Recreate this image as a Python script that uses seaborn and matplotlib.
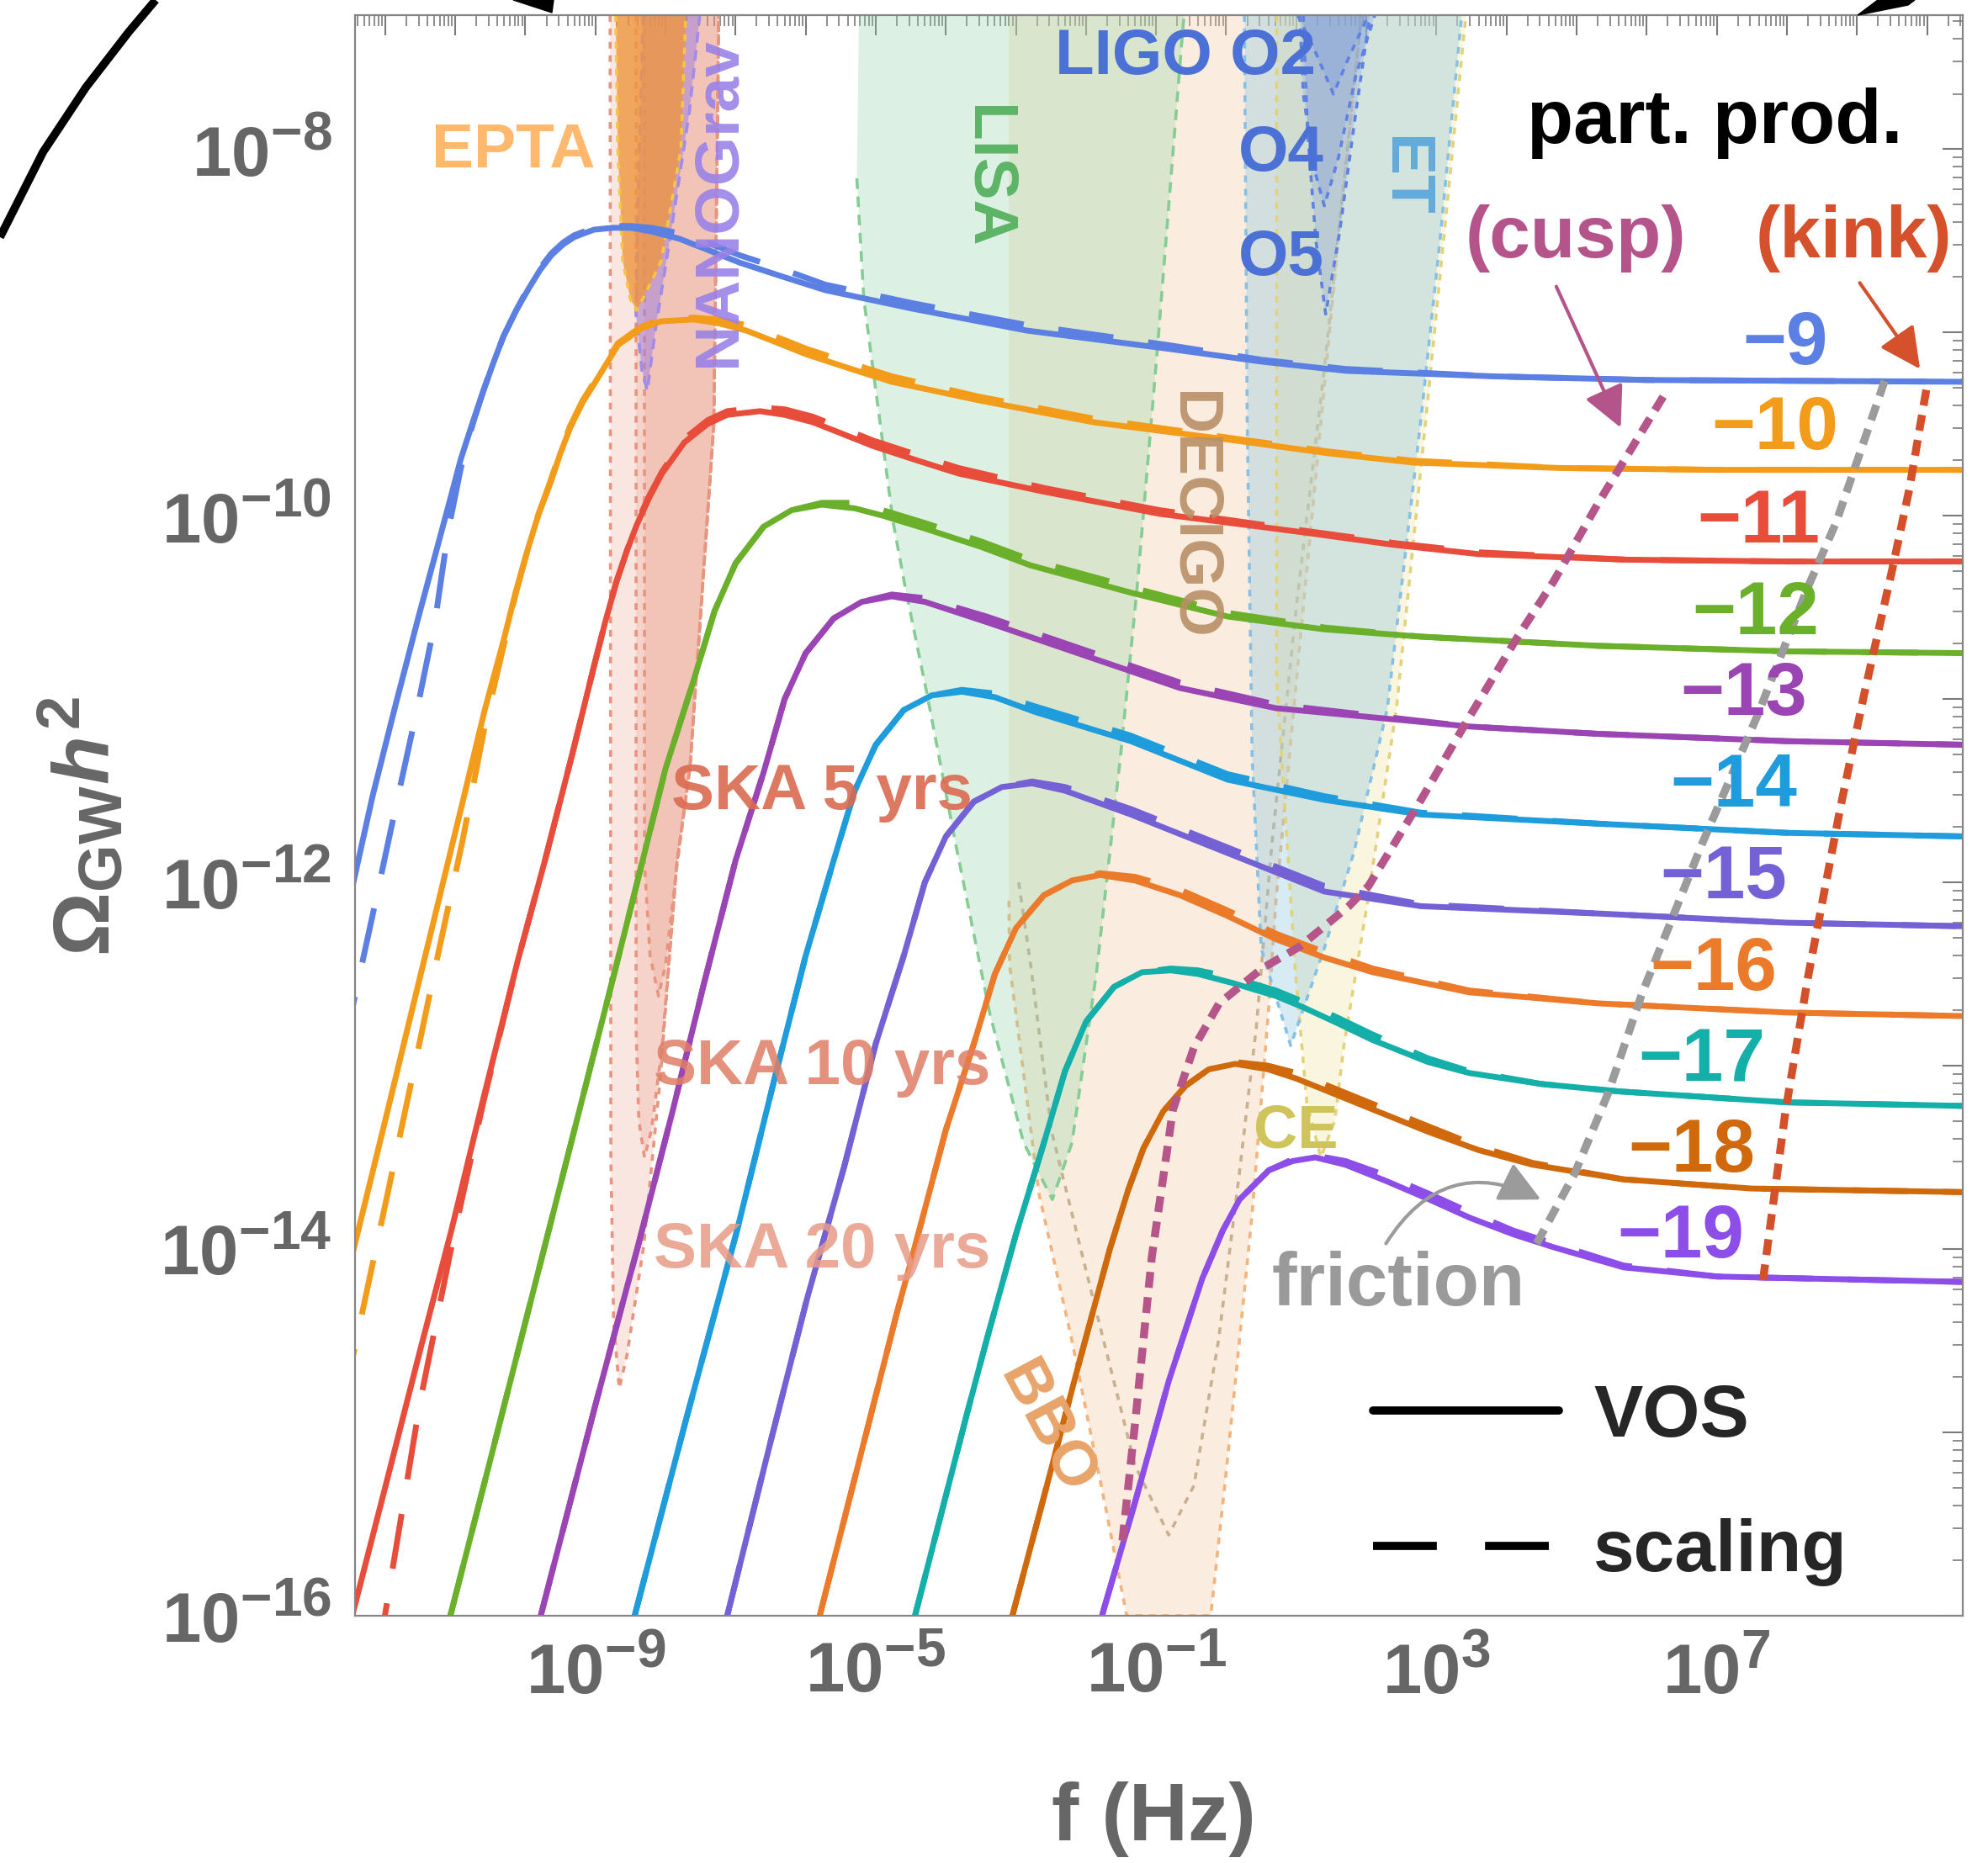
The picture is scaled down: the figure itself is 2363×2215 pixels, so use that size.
import numpy as np
import pandas as pd
import matplotlib
matplotlib.use("Agg")
import matplotlib.pyplot as plt
import matplotlib.ticker as mticker
from matplotlib.lines import Line2D
import seaborn as sns

try:
    import matplotlib._mathtext as _mt
    _mt.SHRINK_FACTOR = 0.77
except Exception:
    pass

# ---------------- data: log10(f/Hz) and log10(Omega_GW h^2) ----------------
gmu_labels = ["−9", "−10", "−11", "−12", "−13", "−14", "−15", "−16", "−17", "−18", "−19"]
curve_colors = ["#5B7FE3", "#F39C1A", "#E84C3A", "#6BB02A", "#9B45B5", "#1F9CDB",
                "#7561D6", "#EC7A2B", "#14AFA9", "#CF690C", "#8C4DE8"]

logf_m9 = [-12.60, -12.43, -12.18, -11.85, -11.53, -11.29, -11.10, -10.92, -10.75, -10.60, -10.45, -10.31, -10.13, -9.95,
           -9.79, -9.63, -9.46, -9.30, -9.02, -8.75, -8.50, -8.20, -7.80, -7.40, -6.94, -6.30, -5.72, -4.49, -2.85,
           -0.82, 0.51, 1.71, 3.81, 6.00, 10.60]
vos_m9 = [-12.25, -11.96, -11.53, -11.03, -10.56, -10.22, -9.95, -9.69, -9.49, -9.32, -9.16, -9.02, -8.88, -8.76,
          -8.66, -8.58, -8.52, -8.48, -8.44, -8.43, -8.43, -8.45, -8.49, -8.55, -8.62, -8.70, -8.77, -8.87, -8.99,
          -9.09, -9.16, -9.21, -9.24, -9.26, -9.27]
scal_m9 = [-12.92, -12.62, -12.18, -11.59, -11.03, -10.58, -10.08, -9.74, -9.50, -9.32, -9.16, -9.02, -8.88, -8.75,
           -8.65, -8.57, -8.51, -8.47, -8.43, -8.42, -8.42, -8.43, -8.46, -8.51, -8.58, -8.66, -8.74, -8.84, -8.96,
           -9.07, -9.15, -9.20, -9.24, -9.26, -9.27]

logf_m10 = [-12.60, -12.43, -12.00, -11.60, -11.25, -10.90, -10.58, -10.31, -10.14, -9.97, -9.81, -9.65, -9.50, -9.36,
            -9.18, -9.00, -8.68, -8.35, -8.07, -7.60, -7.25, -6.85, -6.45, -5.99, -5.35, -4.77, -3.54, -1.90, 0.13,
            1.46, 2.66, 4.76, 7.00, 10.60]
vos_m10 = [-14.23, -13.97, -13.30, -12.67, -12.12, -11.57, -11.06, -10.68, -10.42, -10.19, -9.99, -9.83, -9.66, -9.52,
           -9.38, -9.27, -9.07, -8.98, -8.94, -8.93, -8.95, -8.99, -9.05, -9.12, -9.20, -9.27, -9.37, -9.49, -9.59,
           -9.66, -9.71, -9.74, -9.75, -9.75]
scal_m10 = [-14.84, -14.53, -13.76, -13.04, -12.40, -11.78, -11.15, -10.71, -10.43, -10.19, -9.99, -9.82, -9.65, -9.51,
            -9.37, -9.26, -9.06, -8.97, -8.93, -8.92, -8.93, -8.96, -9.02, -9.09, -9.17, -9.24, -9.35, -9.47, -9.58,
            -9.65, -9.70, -9.74, -9.75, -9.75]

logf_m11 = [-12.60, -12.45, -12.00, -11.50, -11.05, -10.60, -10.11, -9.72, -9.33, -9.02, -8.86, -8.70, -8.55, -8.41,
            -8.23, -8.05, -7.73, -7.40, -7.12, -6.65, -6.30, -5.90, -5.50, -5.04, -4.40, -3.82, -2.59, -0.95, 1.08, 2.41,
            3.61, 5.71, 8.00, 10.60]
vos_m11 = [-16.20, -15.97, -15.30, -14.55, -13.89, -13.18, -12.43, -11.88, -11.30, -10.82, -10.58, -10.36, -10.19, -10.05,
           -9.90, -9.77, -9.60, -9.50, -9.45, -9.43, -9.45, -9.49, -9.55, -9.62, -9.70, -9.77, -9.87, -9.99, -10.09, -10.16,
           -10.21, -10.24, -10.25, -10.25]
scal_m11 = [-17.20, -16.90, -15.99, -14.83, -13.98, -13.20, -12.43, -11.88, -11.30, -10.82, -10.58, -10.36, -10.19, -10.04,
            -9.89, -9.76, -9.58, -9.48, -9.43, -9.41, -9.42, -9.46, -9.52, -9.59, -9.67, -9.74, -9.85, -9.97, -10.08, -10.15,
            -10.20, -10.24, -10.25, -10.25]

logf_m12 = [-11.40, -11.05, -10.50, -9.72, -9.20, -8.70, -8.45, -8.00, -7.60, -7.30, -7.00, -6.60, -6.20, -5.77,
            -5.30, -4.90, -4.30, -3.50, -2.80, -1.36, 0.02, 1.40, 2.78, 5.31, 8.00, 10.60]
vos_m12 = [-16.50, -15.97, -15.15, -13.98, -13.20, -12.45, -12.07, -11.38, -10.90, -10.52, -10.26, -10.06, -9.97, -9.94,
           -9.96, -10.00, -10.07, -10.17, -10.27, -10.42, -10.55, -10.62, -10.66, -10.71, -10.74, -10.75]
scal_m12 = [-16.50, -15.97, -15.15, -13.98, -13.20, -12.45, -12.07, -11.38, -10.90, -10.52, -10.26, -10.06, -9.97, -9.93,
            -9.93, -9.97, -10.04, -10.14, -10.24, -10.39, -10.53, -10.61, -10.66, -10.71, -10.74, -10.75]

logf_m13 = [-10.10, -9.76, -9.00, -8.39, -7.90, -7.45, -7.00, -6.60, -6.30, -6.00, -5.60, -5.20, -4.77, -4.30,
            -3.42, -2.04, -0.66, 0.71, 2.09, 3.47, 5.31, 8.00, 10.60]
vos_m13 = [-16.50, -15.97, -14.85, -13.98, -13.25, -12.55, -11.88, -11.40, -11.00, -10.75, -10.56, -10.47, -10.44, -10.47,
           -10.58, -10.76, -10.94, -11.05, -11.10, -11.15, -11.19, -11.23, -11.25]
scal_m13 = [-16.50, -15.97, -14.85, -13.98, -13.25, -12.55, -11.88, -11.40, -11.00, -10.75, -10.56, -10.47, -10.43, -10.45,
            -10.55, -10.73, -10.91, -11.03, -11.09, -11.15, -11.19, -11.23, -11.25]

logf_m14 = [-8.80, -8.42, -7.70, -6.98, -6.45, -6.00, -5.60, -5.30, -5.00, -4.60, -4.20, -3.77, -3.30, -2.73,
            -1.36, 0.02, 1.40, 2.78, 5.31, 8.00, 10.60]
vos_m14 = [-16.53, -15.97, -14.92, -13.90, -13.08, -12.40, -11.88, -11.50, -11.25, -11.06, -10.98, -10.96, -10.99, -11.07,
           -11.23, -11.44, -11.55, -11.63, -11.68, -11.73, -11.75]
scal_m14 = [-16.53, -15.97, -14.92, -13.90, -13.08, -12.40, -11.88, -11.50, -11.25, -11.06, -10.98, -10.95, -10.97, -11.04,
            -11.20, -11.41, -11.53, -11.62, -11.68, -11.73, -11.75]

logf_m15 = [-7.45, -7.10, -6.50, -5.98, -5.45, -5.00, -4.60, -4.30, -4.00, -3.60, -3.20, -2.77, -2.30, -1.36,
            0.02, 1.40, 2.78, 5.31, 8.00, 10.60]
vos_m15 = [-16.50, -15.97, -15.05, -14.27, -13.55, -12.88, -12.40, -12.00, -11.75, -11.56, -11.48, -11.46, -11.50, -11.63,
           -11.84, -12.05, -12.13, -12.17, -12.22, -12.24]
scal_m15 = [-16.50, -15.97, -15.05, -14.27, -13.55, -12.88, -12.40, -12.00, -11.75, -11.56, -11.48, -11.45, -11.48, -11.60,
            -11.81, -12.02, -12.12, -12.17, -12.22, -12.24]

logf_m16 = [-6.10, -5.78, -5.20, -4.70, -4.45, -4.00, -3.60, -3.30, -3.00, -2.60, -2.20, -1.80, -1.30, -0.66,
            0.00, 0.71, 1.40, 2.09, 3.47, 5.31, 8.00, 10.60]
vos_m16 = [-16.48, -15.97, -15.10, -14.35, -14.00, -13.35, -12.88, -12.50, -12.25, -12.07, -11.99, -11.96, -11.99, -12.07,
           -12.18, -12.31, -12.41, -12.49, -12.60, -12.66, -12.71, -12.73]
scal_m16 = [-16.48, -15.97, -15.10, -14.35, -14.00, -13.35, -12.88, -12.50, -12.25, -12.07, -11.99, -11.95, -11.97, -12.04,
            -12.15, -12.28, -12.38, -12.47, -12.59, -12.66, -12.71, -12.73]

logf_m17 = [-4.80, -4.42, -3.70, -3.40, -3.00, -2.60, -2.30, -2.00, -1.60, -1.20, -0.79, -0.40, 0.10, 0.71,
            1.09, 1.60, 2.09, 2.88, 3.47, 4.50, 5.60, 8.00, 10.60]
vos_m17 = [-16.55, -15.97, -14.90, -14.47, -13.92, -13.42, -13.03, -12.76, -12.57, -12.49, -12.48, -12.50, -12.55, -12.62,
           -12.68, -12.77, -12.86, -12.98, -13.04, -13.10, -13.14, -13.20, -13.22]
scal_m17 = [-16.55, -15.97, -14.90, -14.47, -13.92, -13.42, -13.03, -12.76, -12.57, -12.49, -12.47, -12.48, -12.52, -12.59,
            -12.65, -12.74, -12.83, -12.96, -13.03, -13.10, -13.14, -13.20, -13.22]

logf_m18 = [-3.40, -3.03, -2.60, -2.14, -1.66, -1.40, -1.18, -0.90, -0.58, -0.25, 0.13, 0.60, 1.00, 1.39,
            2.10, 2.88, 3.60, 4.37, 5.67, 7.50, 10.60]
vos_m18 = [-16.55, -15.97, -15.35, -14.68, -14.00, -13.68, -13.45, -13.25, -13.11, -13.02, -12.99, -13.02, -13.07, -13.13,
           -13.24, -13.36, -13.46, -13.54, -13.62, -13.67, -13.69]
scal_m18 = [-16.55, -15.97, -15.35, -14.68, -14.00, -13.68, -13.45, -13.25, -13.11, -13.02, -12.98, -13.00, -13.04, -13.10,
            -13.21, -13.33, -13.44, -13.53, -13.62, -13.67, -13.69]

logf_m19 = [-2.10, -1.75, -1.30, -0.82, -0.34, -0.05, 0.19, 0.61, 0.95, 1.27, 1.70, 2.29, 2.90, 3.48,
            4.10, 4.67, 5.67, 7.00, 10.60]
vos_m19 = [-16.50, -15.97, -15.38, -14.72, -14.16, -13.90, -13.73, -13.57, -13.52, -13.50, -13.54, -13.63, -13.73, -13.83,
           -13.92, -13.99, -14.10, -14.15, -14.18]
scal_m19 = [-16.50, -15.97, -15.38, -14.72, -14.16, -13.90, -13.73, -13.57, -13.51, -13.49, -13.52, -13.60, -13.70, -13.80,
            -13.90, -13.97, -14.09, -14.15, -14.18]

# curve label positions (log10 f, log10 Omega)
label_logf = [7.98, 7.83, 7.60, 7.55, 7.38, 7.24, 7.10, 6.95, 6.79, 6.64, 6.48]
label_logo = [-9.07, -9.53, -10.04, -10.54, -10.98, -11.48, -11.98, -12.48, -12.98, -13.47, -13.94]

# particle-production lines
cusp_logf = [-1.48, -1.30, -1.06, -0.76, -0.46, -0.10, 0.51, 1.05, 1.75, 2.03, 2.78, 3.42, 4.16, 4.67, 5.31, 6.30]
cusp_logo = [-15.59, -14.95, -14.04, -13.24, -12.90, -12.66, -12.47, -12.35, -12.13, -12.02, -11.55, -11.13, -10.66, -10.36, -9.93, -9.31]
friction_logf = [4.43, 4.97, 5.45, 5.93, 6.79, 7.58, 8.30, 8.70, 9.40]
friction_logo = [-13.97, -13.59, -13.15, -12.61, -11.79, -11.09, -10.39, -10.04, -9.26]
kink_logf = [7.66, 7.98, 8.30, 8.77, 9.10, 9.50, 9.75, 10.00]
kink_logo = [-14.17, -13.25, -12.52, -11.58, -10.98, -10.30, -9.85, -9.29]

# experimental sensitivity regions (polygon outlines)
ska20_logf = [-8.79, -8.78, -8.74, -8.66, -8.55, -8.31, -8.08, -7.84, -7.65, -7.31, -7.24]
ska20_logo = [-7.27, -13.50, -14.40, -14.76, -14.58, -13.98, -13.09, -11.90, -11.37, -9.50, -7.27]
ska10_logf = [-8.42, -8.42, -8.38, -8.30, -8.20, -8.05, -7.84, -7.65, -7.31, -7.24]
ska10_logo = [-7.27, -12.80, -13.30, -13.50, -13.35, -12.90, -11.90, -11.37, -9.50, -7.27]
ska5_logf = [-8.30, -8.30, -8.22, -8.10, -8.00, -7.85, -7.65, -7.31, -7.24]
ska5_logo = [-7.27, -11.90, -12.40, -12.62, -12.45, -11.95, -11.37, -9.50, -7.27]
epta_logf = [-8.71, -8.68, -8.61, -8.50, -8.41, -8.30, -8.06, -7.78, -7.71]
epta_logo = [-7.27, -8.00, -8.61, -8.82, -8.88, -8.80, -8.61, -8.00, -7.27]
nanograv_logf = [-8.32, -8.40, -8.42, -8.34, -8.26, -8.15, -7.90, -7.66, -7.51]
nanograv_logo = [-7.27, -8.40, -8.90, -9.20, -9.32, -9.00, -8.40, -7.80, -7.27]
lisa_logf = [-5.24, -5.27, -5.17, -4.96, -4.75, -4.58, -4.27, -3.86, -3.37, -2.89, -2.48, -2.20, -1.85, -1.51, -1.27, -0.99, -0.62, -0.60]
lisa_logo = [-7.27, -8.16, -8.82, -9.43, -10.04, -10.39, -10.97, -11.79, -12.72, -13.42, -13.73, -13.42, -12.49, -11.32, -10.39, -9.13, -7.35, -7.27]
decigo_logf = [-2.96, -2.96, -2.79, -2.49, -1.90, -1.30, -0.82, -0.46, -0.11, 0.19, 0.43, 0.65, 1.00, 1.40, 1.93]
decigo_logo = [-7.27, -12.00, -12.45, -13.36, -14.27, -15.18, -15.56, -15.29, -14.50, -13.58, -12.79, -11.80, -10.50, -9.20, -7.27]
bbo_logf = [-3.10, -3.10, -3.09, -2.67, -2.20, -1.72, -1.42, -0.22, 0.01, 0.37, 0.61, 0.71, 1.10, 1.60, 1.93]
bbo_logo = [-7.27, -12.10, -12.45, -13.70, -14.50, -15.41, -16.00, -16.00, -15.18, -13.81, -12.67, -12.10, -10.50, -8.50, -7.27]
et_logf = [0.26, 0.30, 0.37, 0.50, 0.92, 1.40, 1.82, 2.30, 2.78, 3.05, 3.36]
et_logo = [-7.27, -9.47, -11.31, -12.36, -12.89, -12.36, -11.84, -11.05, -9.47, -8.50, -7.27]
ce_logf = [0.72, 0.72, 0.99, 1.15, 1.35, 1.55, 1.68, 2.02, 2.43, 2.85, 3.42]
ce_logo = [-7.27, -10.90, -12.50, -13.20, -13.50, -13.30, -12.89, -12.10, -11.05, -9.47, -7.27]
ligo_o2_logf = [1.02, 1.25, 1.53, 1.75, 2.03]
ligo_o2_logo = [-7.27, -7.45, -7.70, -7.50, -7.27]
ligo_o4_logf = [1.05, 1.10, 1.25, 1.40, 1.60, 1.85, 2.12]
ligo_o4_logo = [-7.27, -7.70, -8.10, -8.31, -8.05, -7.60, -7.27]
ligo_o5_logf = [1.10, 1.16, 1.28, 1.42, 1.62, 1.85, 2.05]
ligo_o5_logo = [-7.27, -7.90, -8.50, -8.90, -8.45, -7.80, -7.27]

# ---------------- style ----------------
sns.set_theme(style="white")
plt.rcParams["font.family"] = ["Liberation Sans", "DejaVu Sans"]
plt.rcParams["font.weight"] = "bold"
plt.rcParams["mathtext.fontset"] = "custom"
plt.rcParams["mathtext.rm"] = "Liberation Sans:bold"
plt.rcParams["mathtext.bf"] = "Liberation Sans:bold"
plt.rcParams["mathtext.it"] = "Liberation Sans:italic:bold"
plt.rcParams["mathtext.sf"] = "Liberation Sans:bold"
plt.rcParams["axes.unicode_minus"] = True

W, H = 2363, 2215
fig = plt.figure(figsize=(W / 100, H / 100), dpi=100)
fig.patch.set_facecolor("white")
ax = fig.add_axes([422 / W, 1 - 1921 / H, (2333 - 422) / W, (1921 - 18) / H])
ax.set_xscale("log")
ax.set_yscale("log")
ax.set_xlim(10 ** -12.43, 10 ** 10.51)
ax.set_ylim(10 ** -16.0, 10 ** -7.27)
ax.set_facecolor("white")

P = lambda a: 10 ** np.asarray(a, dtype=float)


def region(lf, lo, fc, alpha, ec, ls, lw=2.6, z=1.0, start=0):
    ax.fill(P(lf), P(lo), color=fc, alpha=alpha, lw=0, zorder=z)
    ax.plot(P(lf[start:]), P(lo[start:]), color=ec, lw=lw, ls=ls, zorder=z + 0.05, dash_capstyle="butt")


dot = (0, (2.2, 2.2))
dash = (0, (3.5, 2.5))
# beige BBO / DECIGO
region(bbo_logf, bbo_logo, "#F2C9A0", 0.33, "#F2B47C", dot, z=0.8, start=1)
ax.plot(P(decigo_logf[1:]), P(decigo_logo[1:]), color="#C9B08E", lw=2.6, ls=dot, zorder=0.9)
# LISA
region(lisa_logf, lisa_logo, "#8ED3A5", 0.30, "#86CC95", dash, z=1.0, start=1)
# CE then ET
region(ce_logf, ce_logo, "#F3E7AA", 0.38, "#E2D37A", dot, z=1.1)
region(et_logf, et_logo, "#8FC8E0", 0.36, "#86C1E5", dot, z=1.15)
# LIGO
for lf, lo in ((ligo_o2_logf, ligo_o2_logo), (ligo_o4_logf, ligo_o4_logo), (ligo_o5_logf, ligo_o5_logo)):
    region(lf, lo, "#6A8BE0", 0.22, "#5E82E2", dot, z=1.2)
# SKA
for lf, lo in ((ska20_logf, ska20_logo), (ska10_logf, ska10_logo), (ska5_logf, ska5_logo)):
    region(lf, lo, "#E8907A", 0.22, "#E8957F", dot, z=1.3)
# NANOGrav below EPTA
region(nanograv_logf, nanograv_logo, "#9C7BE0", 0.50, "#A18BEB", dash, z=1.4)
region(epta_logf, epta_logo, "#F0953C", 0.78, "#F7C444", dot, z=1.5)

# ---------------- cosmic string spectra via seaborn ----------------
curve_sets = [(logf_m9, vos_m9, scal_m9), (logf_m10, vos_m10, scal_m10), (logf_m11, vos_m11, scal_m11),
              (logf_m12, vos_m12, scal_m12), (logf_m13, vos_m13, scal_m13), (logf_m14, vos_m14, scal_m14),
              (logf_m15, vos_m15, scal_m15), (logf_m16, vos_m16, scal_m16), (logf_m17, vos_m17, scal_m17),
              (logf_m18, vos_m18, scal_m18), (logf_m19, vos_m19, scal_m19)]
rows = []
for lab, (lf, v, s) in zip(gmu_labels, curve_sets):
    for model, vals in (("VOS", v), ("scaling", s)):
        for i, (a, b) in enumerate(zip(lf, vals)):
            rows.append((lab, model, i, 10 ** a, 10 ** b))
df = pd.DataFrame(rows, columns=["Gmu", "model", "idx", "f", "omega"])

sns.lineplot(data=df, x="f", y="omega", hue="Gmu", style="model",
             hue_order=gmu_labels, style_order=["VOS", "scaling"],
             palette=dict(zip(gmu_labels, curve_colors)),
             dashes={"VOS": "", "scaling": (9.5, 6.0)},
             sort=False, estimator=None, lw=5.0, legend=False, ax=ax, zorder=3)
for ln in ax.get_lines()[-22:]:
    ln.set_solid_joinstyle("round")

# particle production lines
ax.plot(P(cusp_logf), P(cusp_logo), color="#B5558A", lw=6.8, ls=(0, (2.0, 1.2)), zorder=4, dash_capstyle="butt")
ax.plot(P(friction_logf), P(friction_logo), color="#9B9B9B", lw=6.8, ls=(0, (2.0, 1.2)), zorder=4, dash_capstyle="butt")
ax.plot(P(kink_logf), P(kink_logo), color="#D4502A", lw=6.8, ls=(0, (2.0, 1.2)), zorder=4, dash_capstyle="butt")

# ---------------- axes / ticks ----------------
ax.xaxis.set_major_locator(mticker.LogLocator(base=10, numticks=100))
ax.yaxis.set_major_locator(mticker.LogLocator(base=10, numticks=100))
ax.xaxis.set_minor_locator(mticker.LogLocator(base=10, subs=np.arange(2, 10), numticks=100))
ax.yaxis.set_minor_locator(mticker.LogLocator(base=10, subs=np.arange(2, 10), numticks=100))
xshow = {-9, -5, -1, 3, 7}
yshow = {-8, -10, -12, -14, -16}


def make_fmt(show):
    def f(val, pos):
        e = int(round(np.log10(val)))
        return r"$\mathbf{10^{%d}}$" % e if e in show else ""
    return mticker.FuncFormatter(f)


ax.xaxis.set_major_formatter(make_fmt(xshow))
ax.yaxis.set_major_formatter(make_fmt(yshow))
ax.xaxis.set_minor_formatter(mticker.NullFormatter())
ax.yaxis.set_minor_formatter(mticker.NullFormatter())
ax.tick_params(which="both", direction="in", top=True, right=True, color="#7A7A7A")
ax.tick_params(which="major", length=17, width=1.5, labelsize=60, labelcolor="#666666", pad=20)
ax.tick_params(which="minor", length=9, width=1.2)
for sp in ax.spines.values():
    sp.set_color("#858585")
    sp.set_linewidth(1.6)
    sp.set_zorder(6)

ax.set_xlabel("f (Hz)", fontsize=70, color="#666666", fontweight="bold", va="center")
ax.xaxis.set_label_coords(0.4966, -0.127)
ax.set_ylabel(r"$\Omega_{\mathrm{GW}}\mathit{h}^{\mathit{2}}$", fontsize=68, color="#666666", va="center")
ax.yaxis.set_label_coords(-0.1695, 0.493)

# ---------------- text labels ----------------
def T(lf, lo, s, color, size, rot=0, alpha=1.0, ha="center", va="center"):
    ax.text(10 ** lf, 10 ** lo, s, color=color, fontsize=size, fontweight="bold", rotation=rot,
            ha=ha, va=va, alpha=alpha, zorder=8, rotation_mode="anchor")


T(-10.17, -8.01, "EPTA", "#FFB96E", 54)
T(-7.24, -8.29, "NANOGrav", "#9A82E8", 54, rot=90, alpha=0.9)
T(-3.42, -8.15, "LISA", "#5DB466", 54, rot=270)
T(-0.58, -7.50, "LIGO O2", "#4C71D6", 55)
T(0.78, -8.03, "O4", "#4C71D6", 55)
T(0.78, -8.60, "O5", "#4C71D6", 55)
T(2.53, -8.15, "ET", "#63ABDB", 54, rot=270)
T(-0.49, -10.0, "DECIGO", "#B88F66", 54, rot=270, alpha=0.9)
T(-5.77, -11.51, "SKA 5 yrs", "#DA6A50", 55, alpha=0.9)
T(-5.77, -13.01, "SKA 10 yrs", "#DF7E66", 55, alpha=0.85)
T(-5.77, -14.01, "SKA 20 yrs", "#E89A86", 55, alpha=0.85)
T(0.99, -13.36, "CE", "#CFC45C", 52)
T(-2.57, -14.98, "BBO", "#E8A46A", 54, rot=-62)
T(6.97, -7.86, "part. prod.", "black", 65)
T(4.99, -8.49, "(cusp)", "#B4548A", 63)
T(8.95, -8.49, "(kink)", "#D4512B", 63)
T(2.46, -14.20, "friction", "#9A9A9A", 64)
for lab, lf, lo, c in zip(gmu_labels, label_logf, label_logo, curve_colors):
    T(lf, lo, lab, c, 64)

# arrows
ax.annotate("", xy=(10 ** 5.63, 10 ** -9.52), xytext=(10 ** 4.71, 10 ** -8.75),
            arrowprops=dict(arrowstyle="-|>,head_length=0.6,head_width=0.3", color="#B4548A", lw=3,
                            mutation_scale=50, shrinkA=0, shrinkB=0), zorder=8)
ax.annotate("", xy=(10 ** 9.90, 10 ** -9.20), xytext=(10 ** 9.04, 10 ** -8.73),
            arrowprops=dict(arrowstyle="-|>,head_length=0.6,head_width=0.3", color="#D4512B", lw=3,
                            mutation_scale=50, shrinkA=0, shrinkB=0), zorder=8)
ax.annotate("", xy=(10 ** 4.49, 10 ** -13.73), xytext=(10 ** 2.28, 10 ** -13.97),
            arrowprops=dict(arrowstyle="-|>,head_length=0.6,head_width=0.3", color="#9B9B9B", lw=3,
                            mutation_scale=50, shrinkA=0, shrinkB=0,
                            connectionstyle="arc3,rad=-0.45"), zorder=8)

# legend
handles = [Line2D([], [], color="black", lw=7, ls="-"),
           Line2D([], [], color="black", lw=7, dashes=(7.8, 5.9))]
leg = ax.legend(handles, ["VOS", "scaling"], loc="center left", bbox_to_anchor=(0.633, 0.0818),
                frameon=False, handlelength=2.53, handletextpad=0.47, labelspacing=0.91,
                borderaxespad=0, borderpad=0, prop=dict(family="Liberation Sans", weight="bold", size=63))
leg.set_zorder(9)

# cropped black annotation strokes outside the frame (figure pixel coords)
arc_x = np.array([0, 51, 102, 153, 185])
arc_y = np.array([282, 181, 104, 38, 0])
fig.add_artist(Line2D(arc_x / W, 1 - arc_y / H, transform=fig.transFigure, color="black", lw=7,
                      solid_capstyle="butt"))
fig.add_artist(plt.Polygon(np.column_stack([np.array([610, 658, 656]) / W, 1 - np.array([0, 0, 15]) / H]),
                           closed=True, transform=fig.transFigure, color="black"))
fig.add_artist(plt.Polygon(np.column_stack([np.array([2208, 2232, 2276, 2268]) / W, 1 - np.array([18, 0, 0, 6]) / H]),
                           closed=True, transform=fig.transFigure, color="black"))

fig.savefig("out.png", dpi=100)
